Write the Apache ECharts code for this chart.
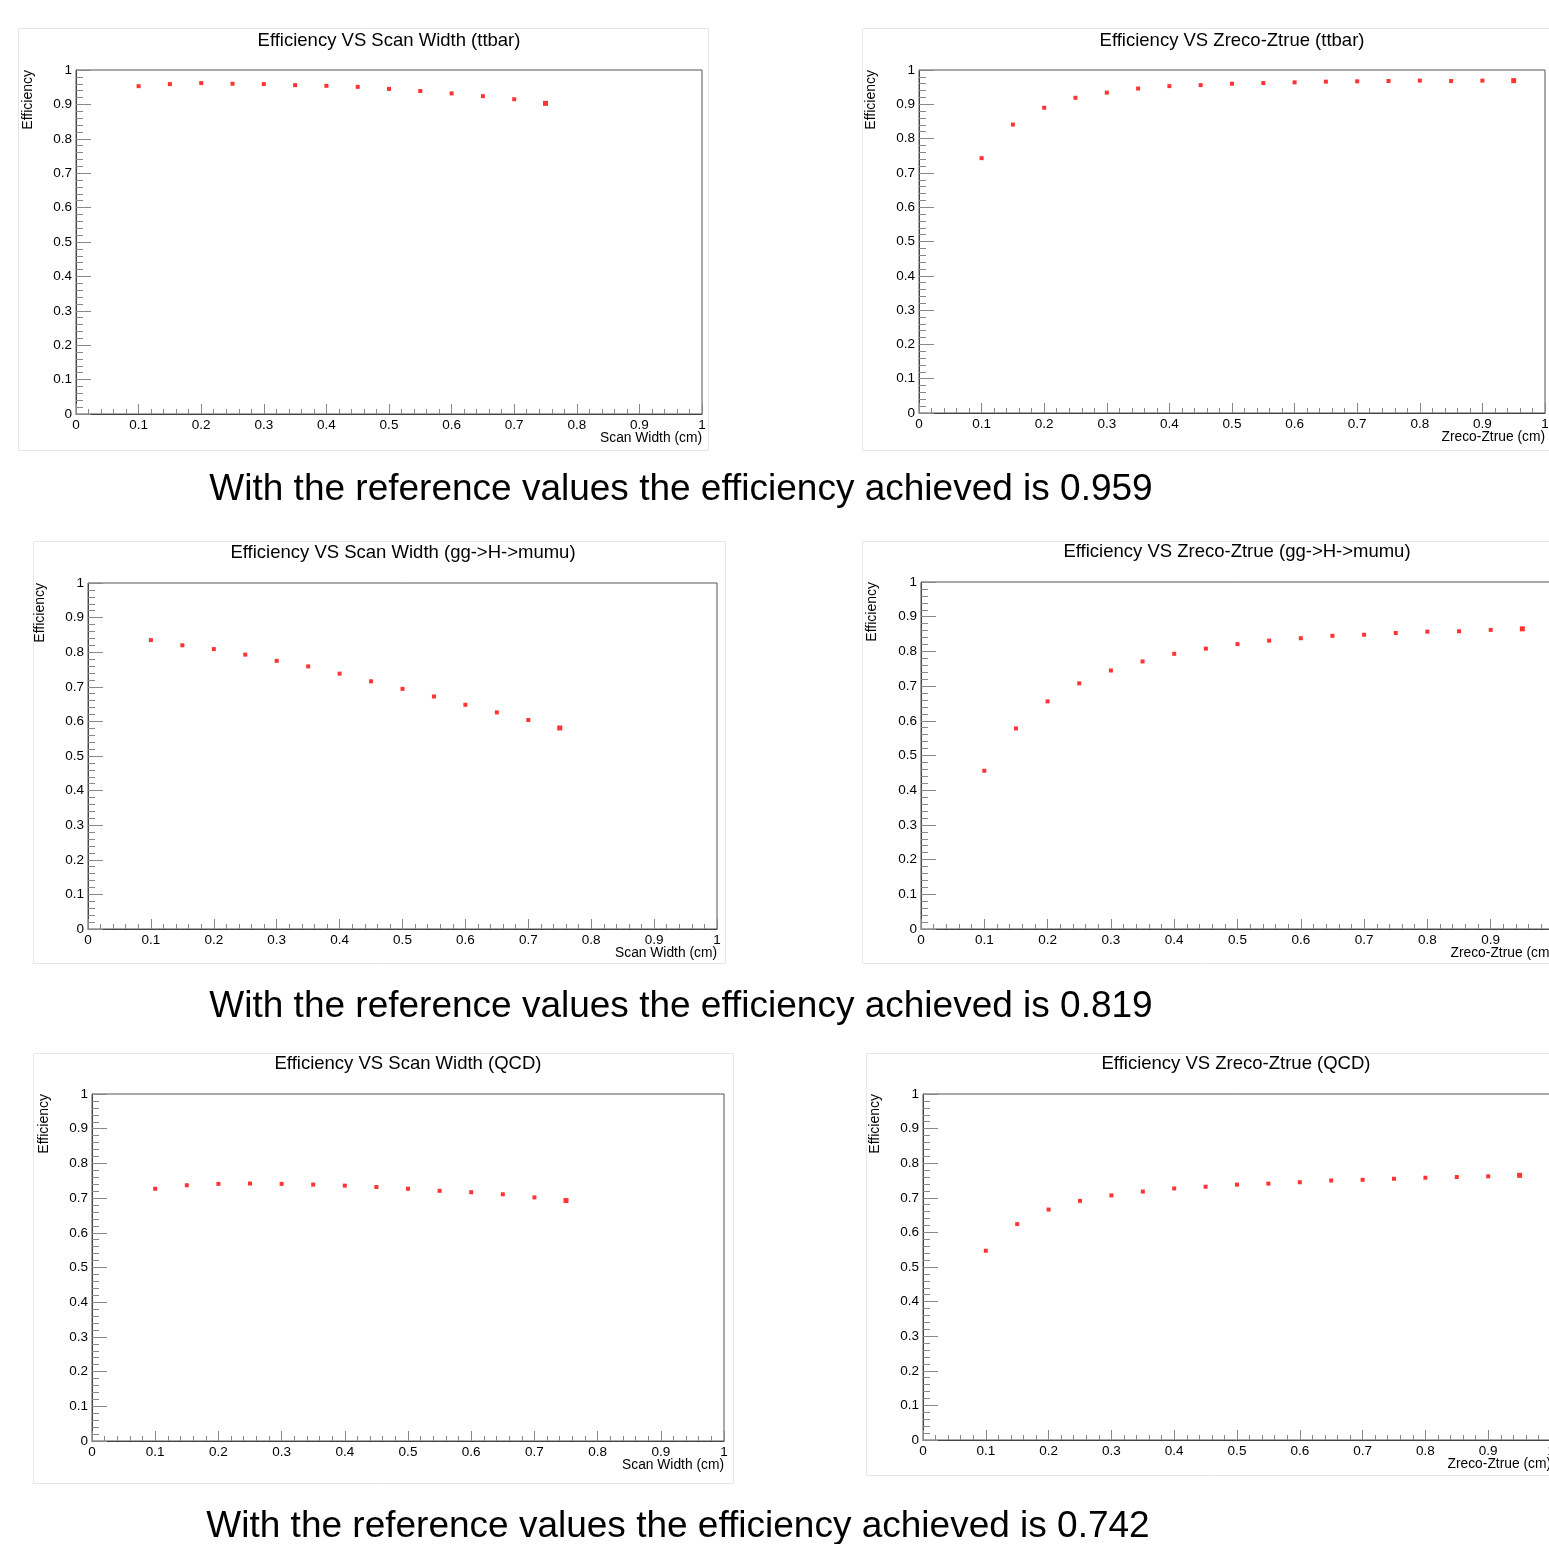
<!DOCTYPE html>
<html>
<head>
<meta charset="utf-8">
<script src="https://cdn.jsdelivr.net/npm/echarts@6/dist/echarts.min.js"></script>
<style>
html,body{margin:0;padding:0;background:#fff;}
#chart{width:1549px;height:1544px;}
</style>
</head>
<body>
<div id="chart"></div>
<script>
// ---------- data ----------
const xScanWidth = [0.1,0.15,0.2,0.25,0.3,0.35,0.4,0.45,0.5,0.55,0.6,0.65,0.7,0.75];
const xZrecoZtrue = [0.1,0.15,0.2,0.25,0.3,0.35,0.4,0.45,0.5,0.55,0.6,0.65,0.7,0.75,0.8,0.85,0.9,0.95];

const effScanTtbar = [0.953,0.959,0.962,0.960,0.959,0.956,0.954,0.951,0.945,0.939,0.932,0.924,0.915,0.903];
const effZTtbar    = [0.743,0.841,0.890,0.919,0.934,0.946,0.953,0.956,0.960,0.962,0.964,0.966,0.967,0.968,0.969,0.968,0.969,0.969];
const effScanHmumu = [0.835,0.820,0.809,0.793,0.775,0.759,0.738,0.716,0.694,0.672,0.648,0.626,0.604,0.581];
const effZHmumu    = [0.456,0.578,0.656,0.708,0.745,0.771,0.793,0.808,0.821,0.831,0.838,0.845,0.848,0.853,0.857,0.858,0.862,0.865];
const effScanQCD   = [0.727,0.737,0.741,0.742,0.741,0.739,0.736,0.732,0.727,0.721,0.717,0.711,0.702,0.693];
const effZQCD      = [0.547,0.624,0.666,0.691,0.707,0.718,0.727,0.732,0.738,0.741,0.745,0.750,0.752,0.755,0.758,0.760,0.762,0.765];

const panelTitles = [
  'Efficiency VS Scan Width (ttbar)',
  'Efficiency VS Zreco-Ztrue (ttbar)',
  'Efficiency VS Scan Width (gg->H->mumu)',
  'Efficiency VS Zreco-Ztrue (gg->H->mumu)',
  'Efficiency VS Scan Width (QCD)',
  'Efficiency VS Zreco-Ztrue (QCD)'
];
const xAxisTitles = ['Scan Width (cm)','Zreco-Ztrue (cm)','Scan Width (cm)','Zreco-Ztrue (cm)','Scan Width (cm)','Zreco-Ztrue (cm)'];
const yAxisTitle = 'Efficiency';
const summaryTexts = [
  'With the reference values the efficiency achieved is 0.959',
  'With the reference values the efficiency achieved is 0.819',
  'With the reference values the efficiency achieved is 0.742'
];
const axisMin = 0, axisMax = 1, axisStep = 0.1;

// ---------- layout ----------
const FONT = "'Liberation Sans', Arial, Helvetica, sans-serif";
const panels = [
  {grid:{left:76, top:70, width:626, height:344},  xs:xScanWidth,  ys:effScanTtbar, title:[389,41],   yname:[28,70]},
  {grid:{left:919,top:70, width:626, height:343},  xs:xZrecoZtrue, ys:effZTtbar,    title:[1232,41],  yname:[871,70]},
  {grid:{left:88, top:583,width:629, height:346},  xs:xScanWidth,  ys:effScanHmumu, title:[403,553],  yname:[40,583]},
  {grid:{left:921,top:582,width:633, height:347},  xs:xZrecoZtrue, ys:effZHmumu,    title:[1237,552], yname:[872,582]},
  {grid:{left:92, top:1094,width:632,height:347},  xs:xScanWidth,  ys:effScanQCD,   title:[408,1064], yname:[44,1094]},
  {grid:{left:923,top:1094,width:628,height:346},  xs:xZrecoZtrue, ys:effZQCD,      title:[1236,1064],yname:[875,1094]}
];
const panelFrames = [
  [18,28,690,422],[862,28,700,422],[33,541,692,422],[862,541,700,422],[33,1053,700,430],[866,1053,700,422]
];
const summaryPos = [[681,490],[681,1007],[678,1527]];

const grids=[], xAxes=[], yAxes=[], series=[], graphics=[];
panels.forEach((p,i)=>{
  grids.push(Object.assign({show:true, borderColor:'#555', borderWidth:1, backgroundColor:'transparent',
    containLabel:false, outerBoundsMode:'none'}, p.grid));
  xAxes.push({
    type:'value', gridIndex:i, min:axisMin, max:axisMax, interval:axisStep,
    axisLine:{show:true, onZero:false, lineStyle:{color:'#444', width:1}},
    axisTick:{show:true, inside:true, length:10, lineStyle:{color:'#888'}},
    minorTick:{show:true, splitNumber:5, length:5, lineStyle:{color:'#888'}},
    splitLine:{show:false},
    axisLabel:{color:'#000', fontSize:13.5, fontFamily:FONT, margin:4, hideOverlap:false}
  });
  yAxes.push({
    type:'value', gridIndex:i, min:axisMin, max:axisMax, interval:axisStep,
    axisLine:{show:true, onZero:false, lineStyle:{color:'#444', width:1}},
    axisTick:{show:true, inside:true, length:15, lineStyle:{color:'#888'}},
    minorTick:{show:true, splitNumber:5, length:7, lineStyle:{color:'#888'}},
    splitLine:{show:false},
    axisLabel:{color:'#000', fontSize:13.5, fontFamily:FONT, margin:4, hideOverlap:false}
  });
  const last = p.xs.length-1;
  series.push({
    type:'scatter', xAxisIndex:i, yAxisIndex:i,
    data:p.xs.map((x,k)=>[x,p.ys[k]]),
    symbol:'rect',
    symbolSize:(v,params)=> params.dataIndex===last ? 5 : 4,
    itemStyle:{color:'#ff0000'},
    silent:true
  });
  const g = p.grid;
  graphics.push({type:'text', x:p.title[0], y:p.title[1],
    style:{text:panelTitles[i], fill:'#000', font:'18.5px '+FONT, align:'center', verticalAlign:'middle'}});
  graphics.push({type:'text', x:p.yname[0], y:p.yname[1], rotation:Math.PI/2,
    style:{text:yAxisTitle, fill:'#000', font:'14px '+FONT, align:'right', verticalAlign:'middle'}});
  graphics.push({type:'text', x:g.left+g.width, y:g.top+g.height+24,
    style:{text:xAxisTitles[i], fill:'#000', font:'13.8px '+FONT, align:'right', verticalAlign:'middle'}});
});
panelFrames.forEach(f=>{
  graphics.push({type:'rect', shape:{x:f[0]+0.5,y:f[1]+0.5,width:f[2],height:f[3]}, z:-1,
    style:{fill:null, stroke:'#e6e6e6', lineWidth:1}});
});
summaryTexts.forEach((t,i)=>{
  graphics.push({type:'text', x:summaryPos[i][0], y:summaryPos[i][1],
    style:{text:t, fill:'#000', font:'37px '+FONT, align:'center', verticalAlign:'middle'}});
});

const chart = echarts.init(document.getElementById('chart'), null, {renderer:'canvas'});
chart.setOption({
  animation:false,
  backgroundColor:'#fff',
  grid:grids, xAxis:xAxes, yAxis:yAxes, series:series,
  graphic:graphics
});
</script>
</body>
</html>
